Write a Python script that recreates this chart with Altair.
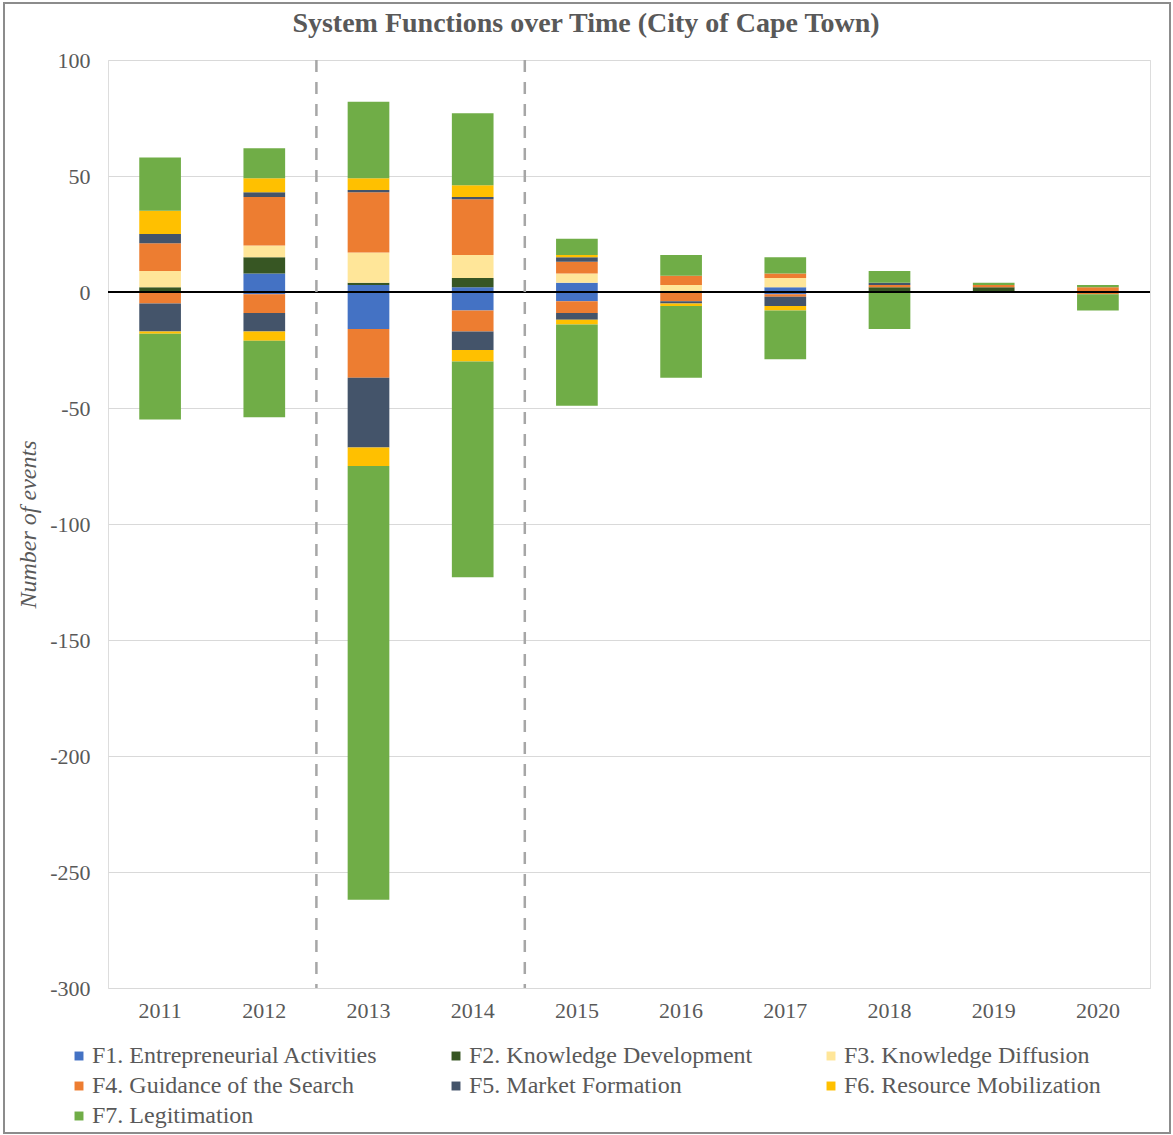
import altair as alt
import pandas as pd

years = ["2011", "2012", "2013", "2014", "2015", "2016", "2017", "2018", "2019", "2020"]

functions = [
    "F1. Entrepreneurial Activities",
    "F2. Knowledge Development",
    "F3. Knowledge Diffusion",
    "F4. Guidance of the Search",
    "F5. Market Formation",
    "F6. Resource Mobilization",
    "F7. Legitimation",
]
colors = ["#4472C4", "#375623", "#FFE699", "#ED7D31", "#44546A", "#FFC000", "#70AD47"]

# positive (upward) and negative (downward) event counts per function, 2011..2020
F1_pos = [0, 8, 3, 2, 4, 0, 2, 0, 0, 0]
F1_neg = [0, -1, -16, -8, -4, 0, -1, 0, 0, 0]
F2_pos = [2, 7, 1, 4, 0, 0, 0, 2, 2, 0]
F2_neg = [0, 0, 0, 0, 0, 0, 0, 0, 0, 0]
F3_pos = [7, 5, 13, 10, 4, 3, 4, 0, 0, 0]
F3_neg = [0, 0, 0, 0, 0, 0, 0, 0, 0, 0]
F4_pos = [12, 21, 26, 24, 5, 4, 2, 1, 1, 2]
F4_neg = [-5, -8, -21, -9, -5, -4, -1, 0, 0, -1]
F5_pos = [4, 2, 1, 1, 2, 0, 0, 1, 0, 0]
F5_neg = [-12, -8, -30, -8, -3, -1, -4, 0, 0, 0]
F6_pos = [10, 6, 5, 5, 1, 0, 0, 0, 0, 0]
F6_neg = [-1, -4, -8, -5, -2, -1, -2, 0, 0, 0]
F7_pos = [23, 13, 33, 31, 7, 9, 7, 5, 1, 1]
F7_neg = [-37, -33, -187, -93, -35, -31, -21, -16, 0, -7]

# period separators: after the 2nd and the 4th year
separators = [2, 4]

title_text = "System Functions over Time (City of Cape Town)"

pos = [F1_pos, F2_pos, F3_pos, F4_pos, F5_pos, F6_pos, F7_pos]
neg = [F1_neg, F2_neg, F3_neg, F4_neg, F5_neg, F6_neg, F7_neg]

rows = []
for i, fn in enumerate(functions):
    for j, yr in enumerate(years):
        for v in (pos[i][j], neg[i][j]):
            if v != 0:
                rows.append({"year": yr, "function": fn, "events": v, "order": i})
df = pd.DataFrame(rows)

FONT = "Liberation Serif"
GREY = "#595959"

bars = alt.Chart(df).mark_bar().encode(
    x=alt.X(
        "year:O",
        sort=years,
        scale=alt.Scale(domain=years, paddingInner=0.6, paddingOuter=0.3),
        axis=alt.Axis(
            title=None, labelAngle=0, labelFont=FONT, labelFontSize=22,
            labelColor=GREY, ticks=False, domain=False, labelPadding=12,
        ),
    ),
    y=alt.Y(
        "events:Q",
        stack="zero",
        scale=alt.Scale(domain=[-300, 100], nice=False, zero=False),
        axis=alt.Axis(
            title="Number of events", values=list(range(-300, 101, 50)),
            labelExpr="datum.value + ''", labelFont=FONT, labelFontSize=22,
            labelColor=GREY, ticks=False, domain=False, labelPadding=18,
            gridColor="#D9D9D9", gridWidth=1,
            titleFont=FONT, titleFontSize=24, titleFontStyle="italic",
            titleFontWeight="normal", titleColor=GREY, titleX=-68, titleY=464,
        ),
    ),
    color=alt.Color(
        "function:N",
        sort=functions,
        scale=alt.Scale(domain=functions, range=colors),
        legend=alt.Legend(
            title=None, orient="none", direction="horizontal",
            legendX=-41, legendY=984, columns=3,
            symbolType="square", symbolSize=80, symbolStrokeWidth=0,
            labelFont=FONT, labelFontSize=24, labelColor=GREY,
            rowPadding=6, columnPadding=66, labelOffset=1, labelLimit=400,
        ),
    ),
    order=alt.Order("order:Q", sort="ascending"),
)

zero = alt.Chart(pd.DataFrame({"v": [0]})).mark_rule(color="black", strokeWidth=2).encode(
    y=alt.Y("v:Q")
)

dashes = alt.Chart(pd.DataFrame({"b": separators})).mark_rule(
    color="#A6A6A6", strokeWidth=2.5, strokeDash=[12, 10]
).encode(
    x=alt.X("b:Q", scale=alt.Scale(domain=[0, len(years)], nice=False), axis=None)
)

frame = alt.Chart(pd.DataFrame({"v": [0]})).mark_rect(
    fill=None, stroke="#8C8C8C", strokeWidth=2
).encode(
    x=alt.value(-104), x2=alt.value(1062), y=alt.value(-57), y2=alt.value(1073)
)

title = alt.Chart(pd.DataFrame({"t": [title_text]})).mark_text(
    font=FONT, fontSize=28, fontWeight="bold", color=GREY, baseline="middle", align="center"
).encode(
    text="t:N", x=alt.value(478), y=alt.value(-36)
)

chart = alt.layer(bars, zero, dashes, frame, title).resolve_scale(x="independent").properties(
    width=1042,
    height=928,
    autosize=alt.AutoSizeParams(type="none"),
    padding={"left": 108, "top": 60, "right": 23, "bottom": 147},
).configure_view(stroke=None).configure(background="white")

chart.save("out.html", embed_options={"renderer": "svg", "actions": False})
